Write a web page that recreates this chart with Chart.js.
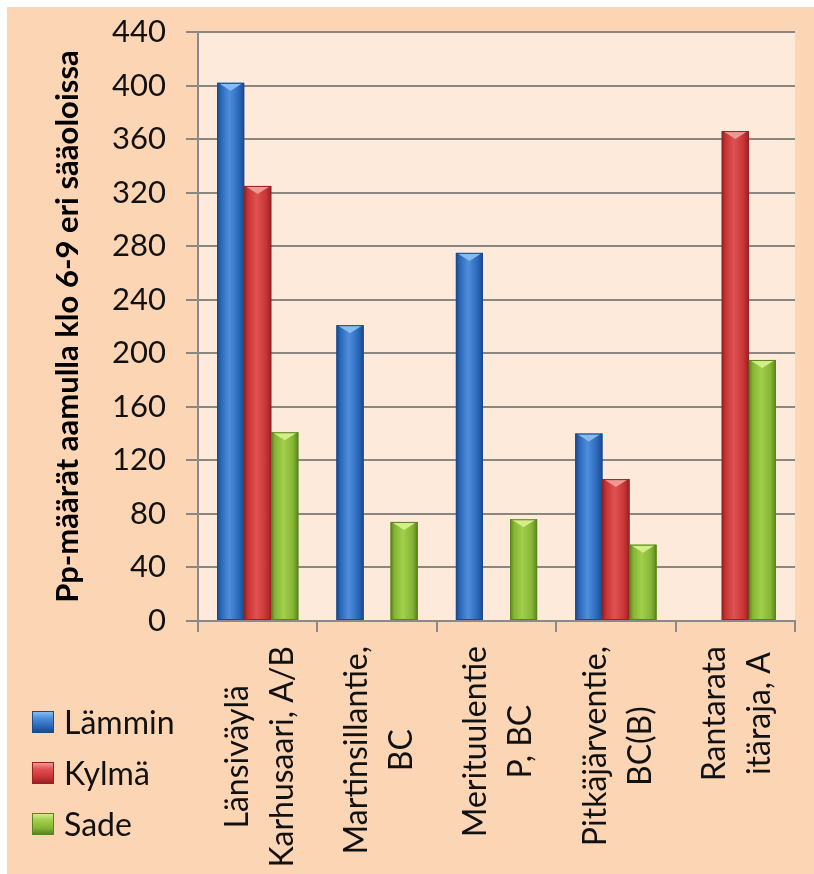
<!DOCTYPE html>
<html>
<head>
<meta charset="utf-8">
<script src="https://cdn.jsdelivr.net/npm/chart.js@4.4.1/dist/chart.umd.min.js"></script>
<style>
  html, body { margin: 0; padding: 0; background: #ffffff; }
  #frame { position: absolute; left: 7px; top: 7px; width: 807px; height: 867px; background: #FCD5B5; }
  #frame canvas { position: absolute; left: 0; top: 0; }
  #legend { position: absolute; left: 25px; top: 689px; font-family: Lato, "Open Sans", sans-serif; font-size: 32px; color: #111; }
  .item { height: 51px; display: flex; align-items: center; }
  .swatch { width: 22px; height: 22px; margin-right: 10px; box-sizing: border-box; }
</style>
</head>
<body>
<div id="frame">
  <canvas id="c" width="807" height="867"></canvas>
  <div id="legend"></div>
</div>
<script>
// ---- data ----
const categories = [
  ["Länsiväylä", "Karhusaari, A/B"],
  ["Martinsillantie,", "BC"],
  ["Merituulentie", "P, BC"],
  ["Pitkäjärventie,", "BC(B)"],
  ["Rantarata", "itäraja, A"]
];
const seriesNames = ["Lämmin", "Kylmä", "Sade"];
const lammin = [402, 221, 275, 140, null];
const kylma  = [325, null, null, 106, 366];
const sade   = [141, 74, 76, 57, 195];
const yTicks = [0, 40, 80, 120, 160, 200, 240, 280, 320, 360, 400, 440];
const yTitle = "Pp-määrät aamulla klo 6-9 eri sääoloissa";

// ---- styles ----
const palette = [
  { base: "#2B68BA", dark: "#1B4A8C", light: "#4F8EDC", top: "#86BBF2" },
  { base: "#C93536", dark: "#962223", light: "#DF5252", top: "#F29696" },
  { base: "#86B535", dark: "#5A8420", light: "#A2CF4C", top: "#D3EE88" }
];
const values = [lammin, kylma, sade];

const plotBg = {
  id: "plotBg",
  beforeDraw(chart) {
    const { ctx, chartArea: a } = chart;
    ctx.save();
    ctx.fillStyle = "#FDEADB";
    ctx.fillRect(a.left, a.top, a.right - a.left, a.bottom - a.top);
    ctx.restore();
  }
};

const bevel = {
  id: "bevel",
  afterDatasetsDraw(chart) {
    const ctx = chart.ctx;
    chart.data.datasets.forEach((ds, di) => {
      const meta = chart.getDatasetMeta(di);
      const p = palette[di];
      meta.data.forEach((bar, i) => {
        if (ds.data[i] == null) return;
        const { x, y, base, width } = bar.getProps(["x", "y", "base", "width"], true);
        const l = x - width / 2, r = x + width / 2;
        ctx.save();
        const g = ctx.createLinearGradient(l, 0, r, 0);
        g.addColorStop(0, p.dark);
        g.addColorStop(0.15, p.base);
        g.addColorStop(0.45, p.light);
        g.addColorStop(0.8, p.base);
        g.addColorStop(1, p.dark);
        ctx.fillStyle = g;
        ctx.fillRect(l, y, width, base - y);
        const h = Math.min(8, (base - y) / 2);
        ctx.beginPath();
        ctx.moveTo(l + 1, y);
        ctx.lineTo(r - 1, y);
        ctx.lineTo(x, y + h);
        ctx.closePath();
        ctx.fillStyle = p.top;
        ctx.fill();
        ctx.strokeStyle = p.dark;
        ctx.lineWidth = 1;
        ctx.strokeRect(l + 0.5, y + 0.5, width - 1, base - y - 1);
        ctx.restore();
      });
    });
  }
};

const xLabels = {
  id: "xLabels",
  afterDraw(chart) {
    const ctx = chart.ctx;
    const xs = chart.scales.x;
    const labels = chart.data.labels;
    ctx.save();
    ctx.font = "32px Lato, 'Open Sans', sans-serif";
    ctx.fillStyle = "#111";
    ctx.textAlign = "center";
    ctx.textBaseline = "middle";
    labels.forEach((lines, i) => {
      const px = xs.getPixelForValue(i);
      const maxW = Math.max(...lines.map(s => ctx.measureText(s).width));
      ctx.save();
      ctx.translate(px + 2, xs.top + 25 + maxW / 2);
      ctx.rotate(-Math.PI / 2);
      const step = 45;
      lines.forEach((s, j) => {
        ctx.fillText(s, 0, (j - (lines.length - 1) / 2) * step);
      });
      ctx.restore();
    });
    ctx.restore();
  }
};

const chart = new Chart(document.getElementById("c"), {
  type: "bar",
  data: {
    labels: categories,
    datasets: seriesNames.map((n, i) => ({
      label: n,
      data: values[i],
      backgroundColor: palette[i].base,
      borderColor: palette[i].dark,
      borderWidth: 0,
      barPercentage: 1.0,
      categoryPercentage: 0.68
    }))
  },
  options: {
    responsive: false,
    animation: false,
    layout: { padding: { left: 0, top: 25, right: 19, bottom: 0 } },
    plugins: { legend: { display: false }, tooltip: { enabled: false } },
    scales: {
      x: {
        afterFit(s) { s.height = 253; },
        grid: { drawOnChartArea: false, drawTicks: true, tickLength: 11, color: "#8A8A8A", lineWidth: 2, offset: true },
        border: { display: true, color: "#8A8A8A", width: 2 },
        ticks: { display: false }
      },
      y: {
        min: 0, max: 440,
        afterFit(s) { s.width = 191; s.paddingTop = 10; s.paddingBottom = 10; },
        afterBuildTicks(s) { s.ticks = yTicks.map(v => ({ value: v })); },
        grid: { color: "#8C8680", lineWidth: 2, drawTicks: true, tickLength: 12 },
        border: { display: true, color: "#8A8A8A", width: 2 },
        ticks: {
          stepSize: 40,
          padding: 20,
          color: "#111",
          font: { family: "Lato, 'Open Sans', sans-serif", size: 31 }
        },
        title: {
          display: true,
          text: yTitle,
          color: "#000",
          font: { family: "Lato, 'Open Sans', sans-serif", size: 31, weight: "bold" },
          padding: { top: 42, bottom: 0 }
        }
      }
    }
  },
  plugins: [plotBg, bevel, xLabels]
});

const leg = document.getElementById("legend");
chart.data.datasets.forEach((ds, i) => {
  const p = palette[i];
  const row = document.createElement("div");
  row.className = "item";
  const sw = document.createElement("span");
  sw.className = "swatch";
  sw.style.background = `linear-gradient(180deg, ${p.top} 0%, ${p.light} 30%, ${p.base} 70%, ${p.dark} 100%)`;
  sw.style.border = `1px solid ${p.dark}`;
  const t = document.createElement("span");
  t.textContent = ds.label;
  row.appendChild(sw);
  row.appendChild(t);
  leg.appendChild(row);
});
</script>
</body>
</html>
